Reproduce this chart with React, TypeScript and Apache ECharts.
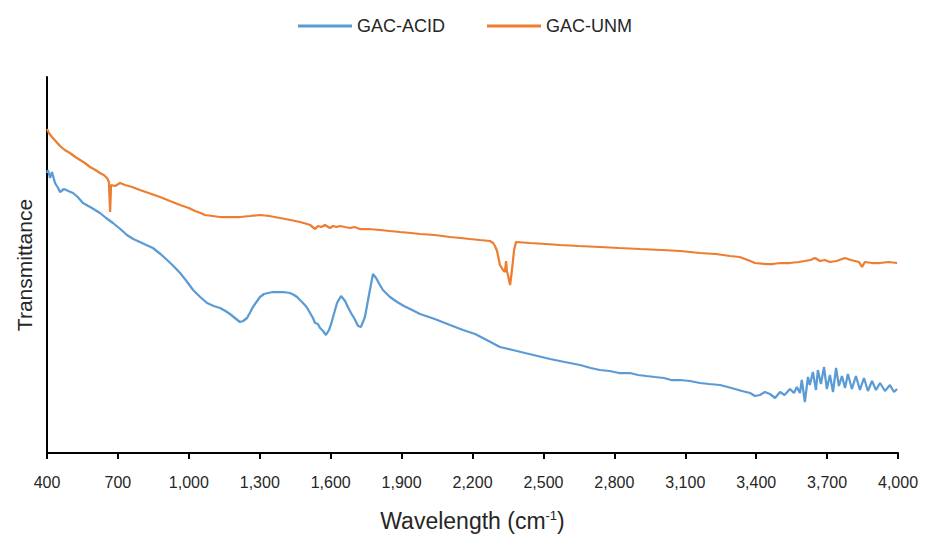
import React, { useEffect, useRef } from "react";
import * as echarts from "echarts";

// Wavenumber (cm^-1) readings and relative transmittance readings (arbitrary units)
const acidX = [400, 404, 413, 421, 434, 447, 455, 472, 490, 510, 530, 552, 590, 624, 650, 679, 710, 738, 765, 793, 820, 848, 880, 908, 935, 963, 990, 1018, 1048, 1077, 1105, 1132, 1155, 1174, 1195, 1216, 1230, 1246, 1258, 1271, 1286, 1301, 1318, 1335, 1355, 1373, 1400, 1428, 1445, 1458, 1470, 1483, 1498, 1513, 1525, 1534, 1546, 1555, 1568, 1580, 1593, 1602, 1610, 1627, 1644, 1661, 1673, 1686, 1699, 1716, 1728, 1745, 1762, 1779, 1792, 1806, 1821, 1851, 1881, 1910, 1936, 1978, 2040, 2105, 2160, 2211, 2260, 2316, 2370, 2422, 2475, 2528, 2590, 2655, 2700, 2739, 2780, 2820, 2866, 2900, 2935, 2972, 3010, 3040, 3078, 3120, 3162, 3200, 3247, 3280, 3310, 3340, 3374, 3395, 3416, 3437, 3458, 3480, 3501, 3520, 3543, 3560, 3572, 3585, 3593, 3606, 3619, 3627, 3640, 3653, 3661, 3674, 3687, 3699, 3712, 3725, 3738, 3750, 3763, 3776, 3788, 3805, 3822, 3839, 3856, 3873, 3890, 3907, 3924, 3945, 3966, 3983, 3996];
const acidY = [280, 283, 275, 281, 270, 265, 261, 264, 262, 260, 256, 250, 245, 240, 235, 230, 224, 218, 214, 211, 208, 205, 199, 193, 187, 180, 172, 163, 156, 150, 147, 145, 142, 139, 135, 131, 132, 135, 140, 146, 151, 156, 159, 160, 161, 161, 161, 160, 158, 156, 153, 150, 146, 140, 135, 130, 129, 125, 122, 118, 123, 129, 136, 150, 157, 152, 146, 140, 135, 127, 126, 136, 158, 179, 175, 169, 163, 156, 151, 147, 144, 139, 134, 128, 123, 119, 113, 106, 103, 100, 97, 94, 91, 88, 85, 83, 82, 80, 80, 78, 77, 76, 75, 73, 73, 72, 70, 69, 68, 66, 64, 62, 60, 57, 58, 61, 59, 55, 61, 58, 64, 60, 66, 60, 73, 51, 76, 68, 81, 63, 83, 69, 86, 64, 78, 61, 85, 67, 77, 65, 79, 64, 77, 63, 75, 62, 72, 63, 70, 62, 68, 61, 64];

const unmX = [400, 408, 421, 440, 455, 475, 497, 520, 540, 560, 582, 605, 624, 640, 654, 662, 667, 671, 688, 709, 730, 760, 793, 830, 878, 920, 963, 1000, 1026, 1050, 1068, 1100, 1132, 1170, 1216, 1260, 1301, 1340, 1386, 1430, 1470, 1500, 1513, 1534, 1546, 1560, 1576, 1597, 1610, 1625, 1639, 1660, 1682, 1700, 1724, 1760, 1809, 1850, 1893, 1940, 1978, 2040, 2105, 2150, 2189, 2230, 2274, 2287, 2295, 2304, 2316, 2329, 2337, 2342, 2346, 2350, 2359, 2367, 2376, 2384, 2443, 2510, 2570, 2650, 2739, 2820, 2909, 3000, 3080, 3162, 3230, 3289, 3330, 3353, 3375, 3395, 3437, 3470, 3501, 3543, 3580, 3606, 3630, 3649, 3670, 3690, 3712, 3740, 3776, 3800, 3818, 3835, 3848, 3860, 3890, 3924, 3960, 3996];
const unmY = [324, 320, 316, 311, 307, 303, 300, 296, 293, 290, 286, 283, 280, 278, 275, 271, 241, 268, 267, 270, 268, 266, 263, 260, 256, 252, 248, 245, 242, 240, 238, 237, 236, 236, 236, 237, 238, 237, 235, 233, 231, 229, 228, 224, 227, 226, 228, 225, 227, 226, 227, 226, 225, 226, 224, 224, 223, 222, 221, 220, 219, 218, 216, 215, 214, 213, 212, 210, 207, 202, 188, 183, 181, 192, 181, 178, 168, 183, 203, 211, 210, 209, 208, 207, 206, 205, 204, 203, 202, 200, 199, 197, 196, 194, 192, 190, 189, 189, 190, 190, 191, 192, 193, 195, 192, 193, 191, 192, 195, 193, 192, 191, 186, 191, 190, 190, 191, 190];

const xMin = 400;
const xMax = 4000;
const xStep = 300;

const seriesNames = ["GAC-ACID", "GAC-UNM"];
const seriesColors = ["#5B9BD5", "#ED7D31"];

const toPairs = (xs: number[], ys: number[]) => xs.map((x, i) => [x - xMin, ys[i]]);

export default function App() {
  const ref = useRef<HTMLDivElement>(null);
  useEffect(() => {
    if (!ref.current) return;
    const chart = echarts.init(ref.current, undefined, { renderer: "svg" });
    const font = "'Liberation Sans', Arial, sans-serif";
    chart.setOption({
      animation: false,
      backgroundColor: "#ffffff",
      color: seriesColors,
      legend: {
        top: 12,
        left: "center",
        icon: "rect",
        itemWidth: 54,
        itemHeight: 3,
        itemGap: 42,
        textStyle: { fontFamily: font, fontSize: 18, color: "#262626" },
        data: seriesNames,
      },
      grid: { left: 47, right: 32, top: 77, bottom: 87, containLabel: false },
      xAxis: {
        type: "value",
        min: 0,
        max: xMax - xMin,
        interval: xStep,
        name: "Wavelength (cm{sup|-1})",
        nameLocation: "middle",
        nameGap: 56,
        nameTextStyle: {
          fontFamily: font,
          fontSize: 23,
          color: "#262626",
          rich: {
            sup: { fontFamily: font, fontSize: 13, color: "#262626", verticalAlign: "top", padding: [0, 0, 10, 0] },
          },
        },
        axisLine: { show: true, lineStyle: { color: "#000000", width: 2 } },
        axisTick: { show: true, length: 6, lineStyle: { color: "#000000", width: 2 } },
        axisLabel: {
          margin: 21,
          fontFamily: font,
          fontSize: 16,
          color: "#262626",
          formatter: (v: number) => (v + xMin).toLocaleString("en-US"),
        },
        splitLine: { show: false },
      },
      yAxis: {
        type: "value",
        min: 0,
        max: 376,
        name: "Transmittance",
        nameLocation: "middle",
        nameGap: 12,
        nameTextStyle: { fontFamily: font, fontSize: 21, color: "#262626" },
        axisLine: { show: true, lineStyle: { color: "#000000", width: 2 } },
        axisTick: { show: false },
        axisLabel: { show: false },
        splitLine: { show: false },
      },
      series: [
        {
          name: seriesNames[0],
          type: "line",
          showSymbol: false,
          lineStyle: { width: 2.25, color: seriesColors[0] },
          data: toPairs(acidX, acidY),
        },
        {
          name: seriesNames[1],
          type: "line",
          showSymbol: false,
          lineStyle: { width: 2.25, color: seriesColors[1] },
          data: toPairs(unmX, unmY),
        },
      ],
    });
    return () => chart.dispose();
  }, []);
  return <div ref={ref} style={{ position: "fixed", left: 0, top: 0, width: 930, height: 540 }} />;
}
